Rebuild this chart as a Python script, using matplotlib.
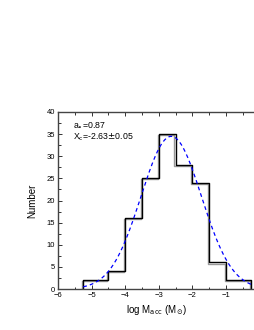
import numpy as np
import matplotlib
matplotlib.use("Agg")
import matplotlib.pyplot as plt
import matplotlib.patheffects as pe
from matplotlib.ticker import MultipleLocator

# histogram of log M_acc
bin_edges = [-5.25, -4.5, -4.0, -3.5, -3.0, -2.5, -2.0, -1.5, -1.0, -0.25]
counts = [2, 4, 16, 25, 35, 28, 24, 6, 2]

# gaussian fit
fit_xc = -2.63
fit_sigma = 0.9
fit_amp = 34.5
fit_range = (-5.25, -0.25)

plt.rcParams['font.family'] = ['Liberation Sans', 'DejaVu Sans']

fig = plt.figure(figsize=(2.55, 3.3), dpi=100)
# axes runs off the right edge like the cropped original
ax = fig.add_axes([58 / 255, 1 - 289 / 330, 197 / 255, 177 / 330])

# step outline with a grey shadow
xs = np.repeat(bin_edges, 2)
ys = np.concatenate([[0], np.repeat(counts, 2), [0]])
ax.plot(xs, ys, color='black', lw=1.0,
        path_effects=[pe.SimpleLineShadow(offset=(-0.8, -0.8), shadow_color='gray', alpha=0.8),
                      pe.Normal()])

xf = np.linspace(fit_range[0], fit_range[1], 300)
yf = fit_amp * np.exp(-(xf - fit_xc) ** 2 / (2 * fit_sigma ** 2))
ax.plot(xf, yf, color='blue', lw=0.9, ls=(0, (3, 2.5)))

ax.set_xlim(-6, -6 + 197 / 33.6)
ax.set_ylim(0, 40)
ax.xaxis.set_major_locator(MultipleLocator(1))
ax.xaxis.set_minor_locator(MultipleLocator(0.5))
ax.yaxis.set_major_locator(MultipleLocator(5))
ax.yaxis.set_minor_locator(MultipleLocator(2.5))
ax.tick_params(which='both', direction='in', top=True, right=False, labelsize=5.5, pad=2,
               width=0.7, color='#333333')
ax.tick_params(which='major', length=3)
ax.tick_params(which='minor', length=1.8)
for s in ax.spines.values():
    s.set_linewidth(1.0)
    s.set_color('#444444')
ax.spines['right'].set_visible(False)

ax.set_xlabel(r'log M$_{\rm acc}$ (M$_{\odot}$)', fontsize=7, labelpad=3)
ax.set_ylabel('Number', fontsize=7, labelpad=7)

ax.text(0.075, 0.925, r'a$_{\bullet}$=0.87', transform=ax.transAxes, fontsize=6.3, va='center')
ax.text(0.075, 0.86, r'X$_{\rm c}$=-2.63$\pm$0.05', transform=ax.transAxes, fontsize=6.3, va='center')

fig.savefig('out.png', dpi=100)
